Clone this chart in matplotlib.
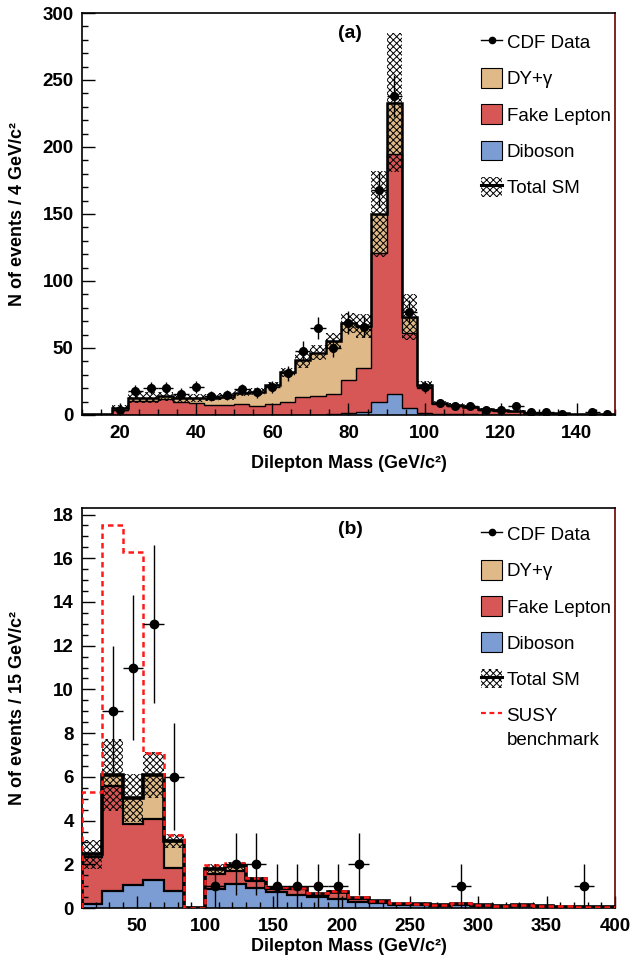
import numpy as np
import matplotlib
matplotlib.use('Agg')
import matplotlib.pyplot as plt
from matplotlib.patches import Patch
from matplotlib.lines import Line2D
from matplotlib.ticker import MultipleLocator

plt.rcParams['font.family'] = ['Liberation Sans', 'DejaVu Sans']
plt.rcParams['hatch.linewidth'] = 0.7

C_DY = '#dfb987'
C_FAKE = '#d65756'
C_DIB = '#7b9dd3'
C_SUSY = '#ff1a1a'
HATCH = 'xxxxx'

# ---------------- panel (a): 4 GeV bins, 10-150 ----------------
edges_a = np.arange(10, 151, 4)
diboson_a = [0, 0, 0, 0, 0, 0, 0, 0, 0, 0, 0, 0, 0, 0.2, 0.3, 0.3, 0.5, 1.5, 2.5, 10,
             16, 5, 1.5, 0.8, 0.5, 0.4, 0.3, 0.3, 0.2, 0.2, 0.1, 0.1, 0.1, 0.1, 0.1]
fake_a = [0.4, 0.4, 3.5, 10.5, 10.7, 11.7, 9.7, 8.7, 7.5, 7.2, 8.2, 6.7, 8.0, 9.8, 12.9,
          13.9, 15.5, 24.5, 32.5, 111, 179, 56, 18.5, 7.7, 6.5, 5.4, 3.6, 3.0, 2.5, 1.3,
          1.2, 0.9, 0.5, 0.5, 0.5]
dy_a = [0, 0, 2.0, 2.5, 2.3, 2.3, 3.3, 3.8, 5.5, 6.5, 8.5, 10.8, 14.4, 21.7, 27.8, 32.3,
        39.5, 42.5, 31.5, 29, 38, 12, 2, 0.7, 0.5, 0.4, 0.3, 0.4, 0.3, 0.2, 0.2, 0.2,
        0.1, 0.1, 0.1]
unc_a = [0.1, 0.1, 1.9, 4, 4, 3.5, 3, 3, 2.8, 2.8, 2.8, 2.5, 2.5, 3.7, 6, 5.4, 5.6, 7.5,
         8.7, 32, 52, 17, 3, 1.5, 1.2, 1, 0.8, 0.7, 0.6, 0.4, 0.3, 0.3, 0.2, 0.2, 0.2]
data_a = [0, 0, 4, 18, 20, 20, 16, 21, 14, 15, 19, 17, 21, 31, 48, 65, 50, 69, 66, 168,
          238, 77, 21, 9, 7, 7, 4, 4, 7, 2, 2, 1, 0, 2, 1]

# ---------------- panel (b): 15 GeV bins, 10-400 ----------------
edges_b = np.arange(10, 401, 15)
diboson_b = [0.2, 0.8, 1.03, 1.3, 0.8, 0, 0.85, 1.08, 0.93, 0.72, 0.6, 0.49, 0.4, 0.29,
             0.21, 0.15, 0.12, 0.1, 0.12, 0.08, 0.07, 0.07, 0.05, 0.04, 0.03, 0.03]
fake_b = [2.15, 4.8, 2.82, 2.75, 1.05, 0, 0.7, 0.62, 0.32, 0.13, 0.25, 0.11, 0.32, 0.14,
          0.06, 0.03, 0.03, 0.02, 0.05, 0.03, 0.02, 0.03, 0.02, 0.01, 0.01, 0.01]
dy_b = [0.1, 0.5, 1.2, 2.03, 1.22, 0, 0.22, 0.22, 0.06, 0.05, 0.05, 0.04, 0.03, 0.04,
        0.03, 0.02, 0.02, 0.01, 0.03, 0.02, 0.01, 0.02, 0.01, 0.01, 0.01, 0.01]
unc_b = [0.65, 1.65, 1.1, 1.05, 0.33, 0, 0.25, 0.2, 0.12, 0.08, 0.08, 0.06, 0.07, 0.05,
         0.03, 0.02, 0.02, 0.02, 0.02, 0.02, 0.01, 0.01, 0.01, 0.01, 0.01, 0.01]
data_b = [0, 9, 11, 13, 6, 0, 1, 2, 2, 1, 1, 1, 1, 2, 0, 0, 0, 0, 1, 0, 0, 0, 0, 0, 1, 0]
susy_b = [5.3, 17.5, 16.3, 7.1, 3.35, 0, 1.97, 2.07, 1.39, 0.95, 0.93, 0.67, 0.78, 0.5,
          0.32, 0.22, 0.18, 0.14, 0.21, 0.14, 0.11, 0.13, 0.09, 0.07, 0.06, 0.06]

fig = plt.figure(figsize=(6.32, 9.63), dpi=100)
axa = fig.add_axes([0.1297, 0.5691, 0.8434, 0.4174])
axb = fig.add_axes([0.1297, 0.0571, 0.8434, 0.4154])


def draw(ax, edges, dib, fake, dy, unc, data, lw_comp, lw_tot, ms):
    dib = np.asarray(dib, float)
    c2 = dib + np.asarray(fake, float)
    c3 = c2 + np.asarray(dy, float)
    unc = np.asarray(unc, float)
    ax.stairs(c3, edges, baseline=c2, fill=True, color=C_DY, lw=0, zorder=1)
    ax.stairs(c2, edges, baseline=dib, fill=True, color=C_FAKE, lw=0, zorder=1)
    ax.stairs(dib, edges, baseline=0, fill=True, color=C_DIB, lw=0, zorder=1)
    ax.stairs(dib, edges, color='k', lw=lw_comp, zorder=2)
    ax.stairs(c2, edges, color='k', lw=lw_comp, zorder=2)
    ax.stairs(c3 + unc, edges, baseline=np.clip(c3 - unc, 0, None), fill=True,
              facecolor='none', edgecolor='k', hatch=HATCH, lw=0, zorder=3)
    ax.stairs(c3, edges, color='k', lw=lw_tot, zorder=4)
    data = np.asarray(data, float)
    x = 0.5 * (edges[:-1] + edges[1:])
    w = 0.5 * (edges[1:] - edges[:-1])
    m = data > 0
    ax.errorbar(x[m], data[m], yerr=np.sqrt(data[m]), xerr=w[m], fmt='o', color='k',
                ms=ms, lw=1.0, capsize=0, zorder=6)


draw(axa, edges_a, diboson_a, fake_a, dy_a, unc_a, data_a, 1.0, 1.8, 5.5)
draw(axb, edges_b, diboson_b, fake_b, dy_b, unc_b, data_b, 1.6, 2.6, 6)
axb.stairs(susy_b, edges_b, color=C_SUSY, lw=1.8, ls=(0, (2.2, 1.6)), zorder=5)

for ax in (axa, axb):
    ax.tick_params(which='both', direction='in', top=False, right=False, width=1.0)
    ax.tick_params(which='major', length=9)
    ax.tick_params(which='minor', length=4.5)
    ax.tick_params(axis='x', which='major', pad=7.5)
    ax.tick_params(axis='y', which='major', pad=6)
    for s in ax.spines.values():
        s.set_linewidth(1.2)
    ax.spines['right'].set_color('#6b0000')

axa.set_xlim(10, 150)
axa.set_ylim(0, 300)
axa.xaxis.set_major_locator(MultipleLocator(20))
axa.xaxis.set_minor_locator(MultipleLocator(5))
axa.yaxis.set_major_locator(MultipleLocator(50))
axa.yaxis.set_minor_locator(MultipleLocator(10))

axb.set_xlim(10, 400)
axb.set_ylim(0, 18.3)
axb.xaxis.set_major_locator(MultipleLocator(50))
axb.xaxis.set_minor_locator(MultipleLocator(10))
axb.yaxis.set_major_locator(MultipleLocator(2))
axb.yaxis.set_minor_locator(MultipleLocator(0.5))

axa.set_xticks([20, 40, 60, 80, 100, 120, 140])
axb.set_xticks([50, 100, 150, 200, 250, 300, 350, 400])
for ax in (axa, axb):
    ax.set_xticklabels([str(int(v)) for v in ax.get_xticks()], fontsize=13.5, fontweight='bold')
    ax.set_yticklabels([('%g' % v) for v in ax.get_yticks()], fontsize=13.5, fontweight='bold')

axa.set_xlabel('Dilepton Mass (GeV/c²)', fontsize=13, fontweight='bold', labelpad=9)
axb.set_xlabel('Dilepton Mass (GeV/c²)', fontsize=13, fontweight='bold', labelpad=1.5)
axa.set_ylabel('N of events / 4 GeV/c²', fontsize=13, fontweight='bold')
axb.set_ylabel('N of events / 15 GeV/c²', fontsize=13, fontweight='bold')
axa.yaxis.set_label_coords(-0.105, 0.5)
axb.yaxis.set_label_coords(-0.105, 0.5)

axa.text(0.503, 0.950, '(a)', transform=axa.transAxes, ha='center', va='center',
         fontsize=14, fontweight='bold')
axb.text(0.503, 0.945, '(b)', transform=axb.transAxes, ha='center', va='center',
         fontsize=14, fontweight='bold')


def handles(with_susy):
    h = [Line2D([], [], color='k', marker='o', ms=4.5, lw=1.0),
         Patch(facecolor=C_DY, edgecolor='k', lw=0.8),
         Patch(facecolor=C_FAKE, edgecolor='k', lw=0.8),
         Patch(facecolor=C_DIB, edgecolor='k', lw=0.8),
         (Patch(facecolor='white', edgecolor='k', hatch=HATCH, lw=0),
          Line2D([], [], color='k', lw=2.2))]
    labels = ['CDF Data', 'DY+γ', 'Fake Lepton', 'Diboson', 'Total SM']
    if with_susy:
        h.append(Line2D([], [], color=C_SUSY, lw=1.6, ls=(0, (2.2, 1.6))))
        labels.append('SUSY')
    return h, labels


for ax, susy, yanchor in ((axa, False, 0.9525), (axb, True, 0.96)):
    h, l = handles(susy)
    leg = ax.legend(h, l, loc='upper left', bbox_to_anchor=(0.749, yanchor),
                    frameon=False, fontsize=13.5, handlelength=1.1, handleheight=1.25,
                    labelspacing=0.85, handletextpad=0.25, borderpad=0, borderaxespad=0)
    leg.set_zorder(10)

axb.text(0.797, 0.42, 'benchmark', transform=axb.transAxes, ha='left', va='center',
         fontsize=13.5, zorder=10)

fig.savefig('out.png', dpi=100)
